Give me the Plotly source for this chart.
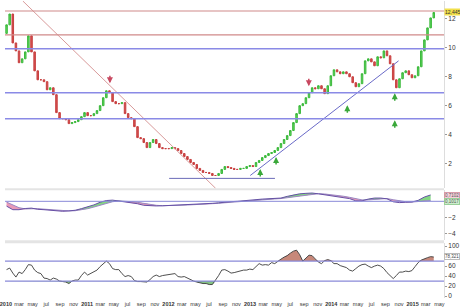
import numpy as np
import pandas as pd
import plotly.graph_objects as go

# ---------------- data ----------------
candle_start = "2010-01-04"
candle_step = "14D"
opens = [11.00, 11.59, 12.34, 10.34, 9.79, 8.97, 9.24, 9.72, 10.83, 9.72,
         8.41, 7.79, 7.79, 7.66, 7.10, 7.24, 6.76, 5.52, 5.10, 5.10,
         5.03, 4.76, 4.83, 4.90, 5.03, 5.24, 5.52, 5.31, 5.31, 5.45,
         5.66, 6.00, 6.55, 7.03, 6.90, 6.28, 6.14, 6.14, 6.21, 5.45,
         5.17, 5.10, 4.55, 3.79, 3.72, 3.45, 3.10, 3.45, 3.66, 3.38,
         3.10, 3.03, 3.03, 3.03, 3.10, 3.03, 2.90, 2.69, 2.48, 2.28,
         2.07, 1.93, 1.66, 1.52, 1.38, 1.38, 1.31, 1.17, 1.17, 1.31,
         1.59, 1.79, 1.72, 1.66, 1.59, 1.59, 1.66, 1.66, 1.79, 1.86,
         1.79, 2.07, 2.21, 2.41, 2.55, 2.69, 2.76, 2.90, 3.10, 3.38,
         3.66, 3.93, 4.28, 4.83, 5.45, 6.00, 6.14, 6.55, 6.90, 7.24,
         7.17, 7.38, 7.17, 6.83, 7.38, 8.07, 8.48, 8.34, 8.21, 8.34,
         8.21, 8.00, 7.59, 7.31, 7.52, 8.21, 9.10, 9.24, 9.03, 8.76,
         9.38, 9.31, 9.79, 9.45, 8.90, 7.79, 7.24, 7.86, 8.28, 8.41,
         8.14, 7.93, 8.07, 8.69, 9.79, 10.55, 11.38, 12.07]
closes = [11.59, 12.34, 10.34, 9.79, 8.97, 9.24, 9.72, 10.83, 9.72, 8.41,
          7.79, 7.79, 7.66, 7.10, 7.24, 6.76, 5.52, 5.10, 5.10, 5.03,
          4.76, 4.83, 4.90, 5.03, 5.24, 5.52, 5.31, 5.31, 5.45, 5.66,
          6.00, 6.55, 7.03, 6.90, 6.28, 6.14, 6.14, 6.21, 5.45, 5.17,
          5.10, 4.55, 3.79, 3.72, 3.45, 3.10, 3.45, 3.66, 3.38, 3.10,
          3.03, 3.03, 3.03, 3.10, 3.03, 2.90, 2.69, 2.48, 2.28, 2.07,
          1.93, 1.66, 1.52, 1.38, 1.38, 1.31, 1.17, 1.17, 1.31, 1.59,
          1.79, 1.72, 1.66, 1.59, 1.59, 1.66, 1.66, 1.79, 1.86, 1.79,
          2.07, 2.21, 2.41, 2.55, 2.69, 2.76, 2.90, 3.10, 3.38, 3.66,
          3.93, 4.28, 4.83, 5.45, 6.00, 6.14, 6.55, 6.90, 7.24, 7.17,
          7.38, 7.17, 6.83, 7.38, 8.07, 8.48, 8.34, 8.21, 8.34, 8.21,
          8.00, 7.59, 7.31, 7.52, 8.21, 9.10, 9.24, 9.03, 8.76, 9.38,
          9.31, 9.79, 9.45, 8.90, 7.79, 7.24, 7.86, 8.28, 8.41, 8.14,
          7.93, 8.07, 8.69, 9.79, 10.55, 11.38, 12.07, 12.445]
rsi_values = [53, 56, 46, 38, 48, 45, 53, 63, 62, 52,
              47, 45, 36, 35, 32, 36, 34, 30, 29, 28,
              25, 30, 32, 32, 41, 48, 42, 45, 49, 52,
              59, 64, 70, 65, 55, 53, 53, 45, 39, 41,
              39, 31, 29, 29, 29, 28, 33, 39, 42, 39,
              41, 42, 42, 43, 45, 39, 38, 39, 36, 32,
              30, 28, 26, 25, 25, 23, 23, 31, 41, 52,
              53, 50, 46, 47, 49, 50, 52, 52, 54, 53,
              60, 65, 62, 63, 62, 67, 65, 70, 74, 78,
              81, 86, 90, 92, 83, 70, 77, 82, 81, 74,
              68, 65, 71, 73, 71, 65, 65, 61, 59, 57,
              52, 50, 55, 60, 63, 64, 60, 57, 60, 62,
              60, 55, 47, 41, 35, 41, 48, 48, 50, 49,
              51, 59, 67, 72, 75, 77, 79, 78.3]

macd_start = "2010-01-04"
macd_step = "28D"
macd_values = [-0.60, -1.05, -1.05, -0.90, -0.85, -1.00, -1.05, -1.12, -1.20, -1.25,
               -1.20, -1.12, -0.92, -0.70, -0.45, -0.12, 0.10, 0.15, 0.05, -0.07,
               -0.17, -0.30, -0.50, -0.58, -0.58, -0.56, -0.53, -0.50, -0.44, -0.41,
               -0.38, -0.38, -0.31, -0.25, -0.19, -0.09, -0.04, 0.00, 0.04, 0.12,
               0.21, 0.28, 0.31, 0.38, 0.41, 0.62, 0.81, 0.94, 1.00, 1.04,
               0.94, 0.81, 0.69, 0.59, 0.50, 0.34, 0.06, 0.06, 0.28, 0.41,
               0.41, 0.31, -0.06, -0.16, -0.12, -0.09, 0.12, 0.54, 0.80]
signal_values = [-0.10, -0.45, -0.80, -0.95, -0.92, -0.92, -0.98, -1.05, -1.10, -1.17,
                 -1.20, -1.18, -1.08, -0.92, -0.72, -0.48, -0.25, -0.05, 0.05, 0.04,
                 -0.04, -0.13, -0.27, -0.40, -0.50, -0.55, -0.55, -0.53, -0.50, -0.46,
                 -0.42, -0.40, -0.36, -0.31, -0.25, -0.18, -0.11, -0.05, 0.00, 0.06,
                 0.12, 0.19, 0.25, 0.30, 0.35, 0.45, 0.58, 0.72, 0.84, 0.93,
                 0.96, 0.92, 0.84, 0.74, 0.64, 0.50, 0.32, 0.18, 0.18, 0.26,
                 0.33, 0.35, 0.20, 0.04, -0.05, -0.09, -0.04, 0.10, 0.10]

red_levels = [12.55, 10.90]
blue_levels = [9.93, 6.90, 5.10]
down_trend_dates = ["2010-03-18", "2012-07-31"]
down_trend_values = [13.24, 0.28]
up_trend_dates = ["2013-01-02", "2014-10-30"]
up_trend_values = [1.17, 9.10]
support_dates = ["2012-01-04", "2013-04-23"]
support_values = [0.97, 0.97]
buy_dates = ["2013-02-16", "2013-04-28", "2014-03-14", "2014-10-13", "2014-10-13"]
buy_values = [1.62, 2.45, 6.03, 5.00, 6.86]
sell_dates = ["2011-04-13", "2013-09-22"]
sell_values = [7.55, 7.35]
rsi_levels = [70, 30]

last_price_label = "12,445"
macd_labels = ["0,7102", "0,1017"]
macd_label_values = [0.75, 0.05]
rsi_label = "78,321"
month_names = {3: "mar", 5: "may", 7: "jul", 9: "sep", 11: "nov"}
price_ticks = [2, 4, 6, 8, 10, 12]
macd_ticks = [-2, -4]
rsi_ticks = [0, 20, 40, 60, 100]   # "80" sits under the current-value box

# ---------------- figure ----------------
cd = pd.date_range(candle_start, periods=len(closes), freq=candle_step)
md = pd.date_range(macd_start, periods=len(macd_values), freq=macd_step)
o = np.array(opens); c = np.array(closes)
hi = np.maximum(o, c); lo = np.minimum(o, c)

fig = go.Figure()
FONT = "Liberation Sans, Arial, sans-serif"

# main panel
fig.add_trace(go.Candlestick(
    x=cd, open=o, high=hi, low=lo, close=c, xaxis="x", yaxis="y",
    increasing=dict(line=dict(color="#3cb93c", width=1), fillcolor="#5ed45e"),
    decreasing=dict(line=dict(color="#c84040", width=1), fillcolor="#d45050"),
    whiskerwidth=0, showlegend=False, hoverinfo="skip"))

for lv in red_levels:
    fig.add_shape(type="line", xref="x domain", x0=0, x1=1, yref="y", y0=lv, y1=lv,
                  line=dict(color="#d08a8a", width=1.2))
for lv in blue_levels:
    fig.add_shape(type="line", xref="x domain", x0=0, x1=1, yref="y", y0=lv, y1=lv,
                  line=dict(color="#8a8ae6", width=1.5))

fig.add_trace(go.Scatter(x=pd.to_datetime(down_trend_dates), y=down_trend_values, mode="lines",
                         line=dict(color="#d89a9a", width=1), xaxis="x", yaxis="y",
                         showlegend=False, hoverinfo="skip"))
fig.add_trace(go.Scatter(x=pd.to_datetime(up_trend_dates), y=up_trend_values, mode="lines",
                         line=dict(color="#6a6ac8", width=1), xaxis="x", yaxis="y",
                         showlegend=False, hoverinfo="skip"))
fig.add_trace(go.Scatter(x=pd.to_datetime(support_dates), y=support_values, mode="lines",
                         line=dict(color="#6a6ab8", width=1), xaxis="x", yaxis="y",
                         showlegend=False, hoverinfo="skip"))

annotations = []
for d, v in zip(buy_dates, buy_values):
    annotations.append(dict(x=d, y=v, xref="x", yref="y", text="", showarrow=True,
                            arrowhead=2, arrowsize=0.8, arrowwidth=1.5, arrowcolor="#3aa83a",
                            ax=0, ay=9))
for d, v in zip(sell_dates, sell_values):
    annotations.append(dict(x=d, y=v, xref="x", yref="y", text="", showarrow=True,
                            arrowhead=2, arrowsize=0.8, arrowwidth=1.5, arrowcolor="#c84860",
                            ax=0, ay=-9))

annotations.append(dict(x=1, xref="paper", y=closes[-1], yref="y", text=last_price_label,
                        showarrow=False, xanchor="left", xshift=0, bgcolor="#f2e04a",
                        borderpad=0, font=dict(size=5, color="#333", family=FONT)))

# MACD panel
macd = np.array(macd_values); sig = np.array(signal_values)
fig.add_shape(type="line", xref="x2 domain", x0=0, x1=1, yref="y2", y0=0, y1=0,
              line=dict(color="#8a8ad8", width=1))
fig.add_trace(go.Scatter(x=md, y=sig, mode="lines", line=dict(width=0), xaxis="x2", yaxis="y2",
                         showlegend=False, hoverinfo="skip"))
fig.add_trace(go.Scatter(x=md, y=np.maximum(macd, sig), mode="lines", line=dict(width=0),
                         fill="tonexty", fillcolor="rgba(90,200,90,0.75)", xaxis="x2", yaxis="y2",
                         showlegend=False, hoverinfo="skip"))
fig.add_trace(go.Scatter(x=md, y=sig, mode="lines", line=dict(width=0), xaxis="x2", yaxis="y2",
                         showlegend=False, hoverinfo="skip"))
fig.add_trace(go.Scatter(x=md, y=np.minimum(macd, sig), mode="lines", line=dict(width=0),
                         fill="tonexty", fillcolor="rgba(225,120,160,0.75)", xaxis="x2", yaxis="y2",
                         showlegend=False, hoverinfo="skip"))
fig.add_trace(go.Scatter(x=md, y=sig, mode="lines", line=dict(color="#9a88c4", width=1),
                         xaxis="x2", yaxis="y2", showlegend=False, hoverinfo="skip"))
fig.add_trace(go.Scatter(x=md, y=macd, mode="lines", line=dict(color="#6650a6", width=1),
                         xaxis="x2", yaxis="y2", showlegend=False, hoverinfo="skip"))
annotations.append(dict(x=1, xref="paper", y=macd_label_values[0], yref="y2", text=macd_labels[0],
                        showarrow=False, xanchor="left", xshift=0, bgcolor="#f6cfdb",
                        bordercolor="#d89aaa", borderwidth=1, borderpad=0,
                        font=dict(size=4.5, color="#555", family=FONT)))
annotations.append(dict(x=1, xref="paper", y=macd_label_values[1], yref="y2", text=macd_labels[1],
                        showarrow=False, xanchor="left", xshift=0, yshift=-1, bgcolor="#cdeecd",
                        bordercolor="#9ad09a", borderwidth=1, borderpad=0,
                        font=dict(size=4.5, color="#555", family=FONT)))

# RSI panel
rsi = np.array(rsi_values, dtype=float)
fig.add_trace(go.Scatter(x=cd, y=np.full(len(rsi), rsi_levels[0]), mode="lines", line=dict(width=0),
                         xaxis="x3", yaxis="y3", showlegend=False, hoverinfo="skip"))
fig.add_trace(go.Scatter(x=cd, y=np.maximum(rsi, rsi_levels[0]), mode="lines", line=dict(width=0),
                         fill="tonexty", fillcolor="rgba(175,85,65,0.7)", xaxis="x3", yaxis="y3",
                         showlegend=False, hoverinfo="skip"))
fig.add_trace(go.Scatter(x=cd, y=np.full(len(rsi), rsi_levels[1]), mode="lines", line=dict(width=0),
                         xaxis="x3", yaxis="y3", showlegend=False, hoverinfo="skip"))
fig.add_trace(go.Scatter(x=cd, y=np.minimum(rsi, rsi_levels[1]), mode="lines", line=dict(width=0),
                         fill="tonexty", fillcolor="rgba(80,170,80,0.7)", xaxis="x3", yaxis="y3",
                         showlegend=False, hoverinfo="skip"))
for lv in rsi_levels:
    fig.add_shape(type="line", xref="x3 domain", x0=0, x1=1, yref="y3", y0=lv, y1=lv,
                  line=dict(color="#8a8ad8", width=1.2))
fig.add_trace(go.Scatter(x=cd, y=rsi, mode="lines", line=dict(color="#3a3a3a", width=0.9),
                         xaxis="x3", yaxis="y3", showlegend=False, hoverinfo="skip"))
annotations.append(dict(x=1, xref="paper", y=rsi[-1], yref="y3", text=rsi_label,
                        showarrow=False, xanchor="left", xshift=0, bgcolor="white",
                        bordercolor="#bbbbbb", borderwidth=1, borderpad=0,
                        font=dict(size=4.5, color="#444", family=FONT)))

# panel separators
for y0, y1 in [(108 / 298, 110 / 298), (55 / 298, 58 / 298)]:
    fig.add_shape(type="rect", xref="paper", x0=0, x1=1, yref="paper", y0=y0, y1=y1,
                  fillcolor="#e4e4e4", line=dict(width=0), layer="below")

# x ticks
tick_dates = pd.date_range("2010-01-01", "2015-05-01", freq="2MS")
tick_text = [f"<b>{d.year}</b>" if d.month == 1 else month_names[d.month] for d in tick_dates]

yax = dict(side="right", showgrid=False, zeroline=False, showline=True, linecolor="#dddddd",
           linewidth=1, ticks="outside", ticklen=2, tickcolor="#999",
           tickfont=dict(size=6.5, color="#333", family=FONT), fixedrange=True)
xax = dict(showgrid=False, zeroline=False, showline=False, showticklabels=False, ticks="")

fig.update_layout(
    width=460, height=308, margin=dict(l=0, r=16, t=0, b=10),
    paper_bgcolor="white", plot_bgcolor="white", showlegend=False,
    font=dict(family=FONT),
    xaxis=dict(xax, anchor="y", range=["2009-12-28", "2015-05-22"], rangeslider=dict(visible=False)),
    xaxis2=dict(xax, anchor="y2", matches="x"),
    xaxis3=dict(xax, anchor="y3", matches="x", showticklabels=True, tickvals=tick_dates,
                ticktext=tick_text, tickangle=0, ticklabelstandoff=1, ticklabeloverflow="allow",
                tickfont=dict(size=5.5, color="#333", family=FONT)),
    yaxis=dict(yax, domain=[110 / 298, 1], range=[0.28, 13.24], tickvals=price_ticks),
    yaxis2=dict(yax, domain=[58 / 298, 108 / 298], range=[-4.875, 1.375], tickvals=macd_ticks),
    yaxis3=dict(yax, domain=[0, 55 / 298], range=[-4, 106], tickvals=rsi_ticks),
    annotations=annotations,
)

fig.write_html("out.html")
